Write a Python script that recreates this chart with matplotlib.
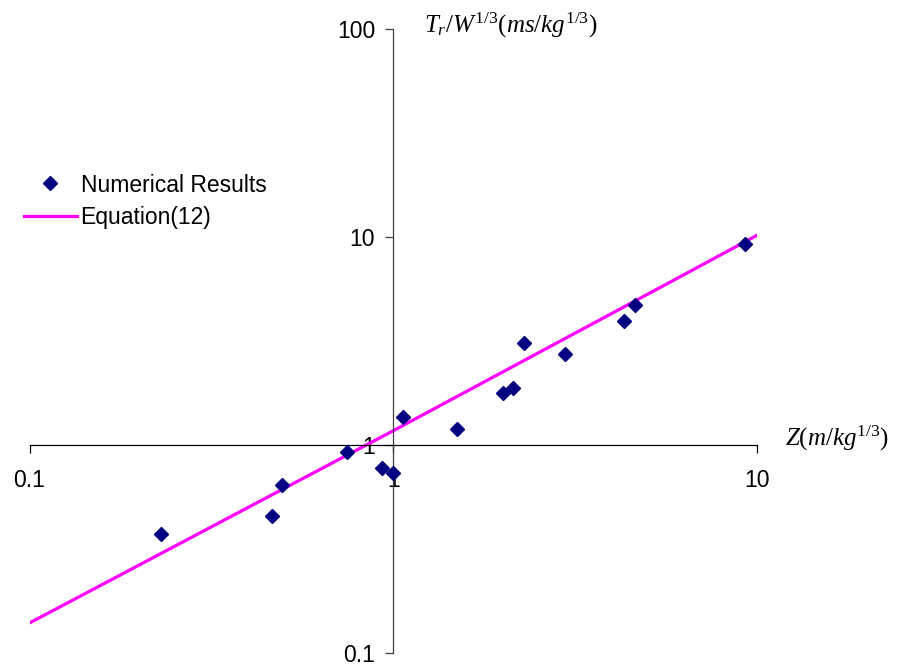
import matplotlib.pyplot as plt
from matplotlib.ticker import FixedLocator, FixedFormatter, NullLocator

# values (log-log)
z_num = [0.230, 0.464, 0.494, 0.746, 0.931, 0.998, 1.063, 1.496, 2.00, 2.13, 2.29, 2.96, 4.31, 4.62, 9.26]
t_num = [0.373, 0.456, 0.642, 0.925, 0.775, 0.733, 1.363, 1.194, 1.778, 1.879, 3.09, 2.74, 3.95, 4.71, 9.25]

z_eq = [0.1, 1, 6, 10]
t_eq = [0.139, 1.17, 6.3, 10.2]

ticks_x = [0.1, 1, 10]
ticks_y = [0.1, 1, 10, 100]
labels_x = ['0.1', '1', '10']
labels_y = ['0.1', '1', '10', '100']

plt.rcParams['font.family'] = ['Liberation Sans', 'DejaVu Sans']
plt.rcParams['mathtext.fontset'] = 'custom'
plt.rcParams['mathtext.it'] = 'Liberation Serif:italic'
plt.rcParams['mathtext.rm'] = 'Liberation Serif'

W, H = 898, 670
fig = plt.figure(figsize=(W / 100, H / 100), dpi=100)
ax = fig.add_axes([29.5 / W, 1 - 652.7 / H, (757 - 29.5) / W, (652.7 - 29.3) / H])
ax.set_xscale('log')
ax.set_yscale('log')
ax.set_xlim(0.1, 10)
ax.set_ylim(0.1, 100)

eq, = ax.plot(z_eq, t_eq, color='#ff00ff', lw=2.3, label='Equation(12)', zorder=2)
num, = ax.plot(z_num, t_num, 'D', color='#000080', ms=7.5, ls='none',
               label='Numerical Results', zorder=3)

# axes cross at (1, 1)
for s in ['top', 'right']:
    ax.spines[s].set_visible(False)
ax.spines['left'].set_position(('data', 1))
ax.spines['bottom'].set_position(('data', 1))
ax.spines['left'].set_color('#404040')
ax.spines['left'].set_linewidth(0.9)
ax.spines['bottom'].set_linewidth(0.9)

ax.xaxis.set_major_locator(FixedLocator(ticks_x))
ax.xaxis.set_major_formatter(FixedFormatter(labels_x))
ax.yaxis.set_major_locator(FixedLocator(ticks_y))
ax.yaxis.set_major_formatter(FixedFormatter(labels_y))
ax.xaxis.set_minor_locator(NullLocator())
ax.yaxis.set_minor_locator(NullLocator())
ax.tick_params(axis='x', direction='out', length=6, width=0.9, pad=11.5, labelsize=16.5)
ax.tick_params(axis='y', direction='out', length=6, width=0.9, pad=7, labelsize=16.5, color='#404040')

fig.text(424 / W, 1 - 25 / H, r'$\mathit{T_r/W^{1/3}(ms/kg^{1/3})}$', fontsize=18,
         ha='left', va='center')
fig.text(785 / W, 1 - 438 / H, r'$\mathit{Z(m/kg^{1/3})}$', fontsize=18,
         ha='left', va='center')

fig.legend([num, eq], ['Numerical Results', 'Equation(12)'], loc='upper left',
           bbox_to_anchor=(24 / W, 1 - 173.5 / H), frameon=False, fontsize=16.5,
           handlelength=2.3, handletextpad=0.17, labelspacing=0.42, borderpad=0,
           borderaxespad=0, numpoints=1)

fig.savefig('out.png', dpi=100)
